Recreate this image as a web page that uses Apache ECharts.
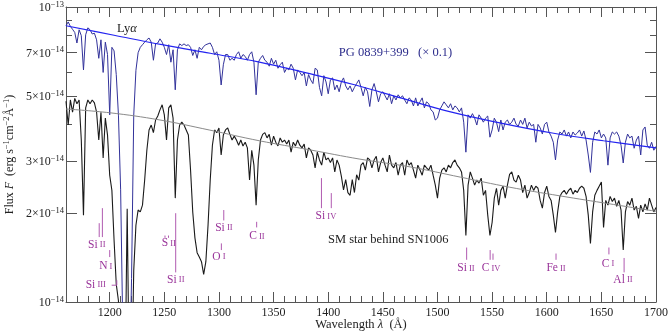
<!DOCTYPE html>
<html><head><meta charset="utf-8">
<script src="https://cdn.jsdelivr.net/npm/echarts@6/dist/echarts.min.js"></script>
<style>html,body{margin:0;padding:0;background:#fff}#c{width:670px;height:332px}</style>
</head><body><div id="c"></div><script>
// Wavelength grid (Å) of both spectra
const waveStart = 1160, waveStep = 2;
// Flux in units of 1e-14 erg s^-1 cm^-2 Å^-1
const fluxSM = [
4.79,3.98,4.84,4.4,4.9,4.7,4.84,3.54,1.97,4.55,
4.84,4.7,4.84,4.73,4.4,3.54,4.4,3.08,4.2,3.68,
2.69,2.39,1.62,1.15,1.01,0.6,0.5,0.5,2.07,0.5,
0.5,1.28,1.82,2.05,2.02,2.13,2.59,3.27,3.83,3.98,
3.75,4.14,4.27,4.48,4.66,4.31,3.54,4.55,4.66,4.2,
2.25,3.54,3.98,4.07,3.98,3.83,3.68,2.8,2.02,1.65,
1.47,1.42,1.37,1.24,1.37,1.82,2.59,3.4,3.83,3.75,
3.89,3.15,3.68,3.83,3.89,3.7,3.54,3.65,3.54,3.4,
3.54,3.38,3.48,3.33,2.59,3.27,2.91,2.13,3.03,3.54,
3.7,3.75,3.6,3.7,3.4,3.65,3.48,3.38,3.6,3.48,
3.54,3.43,3.54,3.22,3.48,3.38,3.54,3.4,3.33,3.43,
3.08,3.33,3.27,3.15,2.85,3.22,3.03,2.91,3.22,3.03,
3.08,2.97,3.08,2.76,3.03,2.91,2.67,2.4,2.6,2.35,
2.3,2.6,2.35,2.7,2.59,2.91,2.97,2.8,3.08,3.03,
2.85,3.03,3.12,2.76,2.97,3.08,2.91,2.76,3.15,2.91,
2.85,2.97,2.69,2.91,2.97,2.69,3.03,2.91,2.97,2.8,
2.63,2.91,2.8,2.69,2.91,2.85,2.8,2.91,2.69,2.49,
2.25,2.63,2.8,2.85,2.76,2.91,2.85,2.97,3.03,2.91,
2.85,2.76,2.39,1.68,2.49,2.76,2.63,2.49,2.59,2.53,
2.63,2.3,2.39,1.97,1.68,1.86,2.25,2.43,2.13,2.39,
2.47,2.25,2.49,2.71,2.76,2.59,2.55,2.69,2.59,2.35,
2.49,2.25,2.35,2.49,2.39,2.47,2.43,2.21,2.08,2.35,
2.47,2.28,2.21,1.97,1.72,2.02,2.28,2.35,2.39,2.32,
2.39,2.43,2.32,2.39,2.35,2.43,2.47,2.43,2.28,1.97,
1.58,2.02,2.3,2.39,2.47,2.55,1.79,2.21,2.13,2.28,
2.19,2.25,2.11,2.21,2.05,1.5,2.02,2.19,2.13,2.25,
2.05,2.11,1.92,2.13,2.02,2.15,2.05,2.25,2.13,2.02,
2.09];
const fluxPG = [
8.64,8.9,8.6,8.4,8.2,7.55,8.37,8.0,6.12,8.05,
8.5,8.37,8.1,8.15,7.74,6.7,7.74,6.0,7.6,6.9,
4.31,7.3,7.1,5.9,4.3,2.4,0.8,0.5,0.5,0.5,
1.2,4.3,6.1,7.0,7.3,7.45,7.6,7.74,7.85,7.6,
6.6,7.5,7.55,7.8,7.6,7.3,6.9,7.45,6.5,7.16,
5.24,7.16,7.5,7.4,7.5,7.4,7.45,7.3,6.85,7.16,
6.7,7.3,7.16,7.35,7.45,7.5,7.55,7.3,6.9,7.05,
6.6,5.44,6.37,6.9,6.9,6.6,6.7,6.6,6.9,7.05,
6.7,6.9,6.8,6.6,6.9,7.05,6.5,5.04,6.5,6.7,
6.85,6.6,6.5,6.3,6.7,6.4,6.6,6.2,6.37,6.5,
6.0,6.2,6.12,6.4,6.2,5.66,6.12,6.0,5.85,6.0,
5.4,5.9,5.66,5.5,6.2,6.12,5.34,5.0,5.85,5.57,
5.08,5.66,5.75,5.24,5.44,5.16,5.57,5.75,5.4,5.24,
5.4,5.16,5.34,5.5,5.66,5.34,5.0,5.34,5.16,4.6,
5.24,5.5,5.16,4.77,5.08,5.16,5.0,4.84,5.08,4.7,
5.0,4.84,5.04,4.92,5.0,4.84,4.7,4.92,4.84,4.62,
4.92,4.62,4.77,4.92,4.55,4.77,4.7,4.48,4.41,4.14,
4.2,4.48,4.62,4.77,4.66,4.55,4.7,4.48,4.62,4.55,
4.41,4.55,4.07,3.22,4.31,4.2,4.35,4.2,3.98,4.31,
4.2,4.07,4.2,4.27,3.62,3.83,4.2,4.07,3.78,4.14,
3.83,4.07,4.14,4.0,4.07,4.2,4.0,3.95,4.14,4.0,
4.2,3.89,4.07,3.95,4.0,3.48,4.0,3.89,3.71,4.0,
4.07,3.77,3.65,3.48,3.03,3.54,3.77,3.71,3.83,3.65,
3.77,3.6,3.77,3.68,3.74,3.83,3.65,3.8,3.54,3.15,
2.75,3.48,3.77,3.71,3.83,3.6,3.71,3.6,2.91,3.6,
3.77,3.71,3.77,3.65,3.4,2.96,3.48,3.71,3.6,3.65,
3.32,3.54,3.65,3.15,3.83,3.92,3.4,3.32,3.48,3.27,
3.37];
// Smooth continuum fits
const contSMWave = [1160,1200,1246,1291,1337,1383,1429,1475,1521,1566,1612,1658,1700];
const contSMFlux = [4.51,4.38,4.14,3.83,3.52,3.28,3.05,2.87,2.65,2.45,2.29,2.15,2.03];
const contPGWave = [1160,1204,1248,1292,1336,1380,1424,1468,1512,1558,1605,1652,1700];
const contPGFlux = [8.64,8.02,7.45,6.97,6.52,5.98,5.45,4.9,4.41,4.04,3.74,3.52,3.33];
// Axis ticks
const xMajor = [1200,1250,1300,1350,1400,1450,1500,1550,1600,1650,1700];
const xMinor = [1170,1180,1190,1210,1220,1230,1240,1260,1270,1280,1290,1310,1320,1330,1340,1360,1370,1380,1390,1410,1420,1430,1440,1460,1470,1480,1490,1510,1520,1530,1540,1560,1570,1580,1590,1610,1620,1630,1640,1660,1670,1680,1690];
const yMajorFlux = [1,2,3,5,7,10];
const yMinorFlux = [4,6,8,9];
// Line identification marks: [wave1, flux1, wave2, flux2]
const markSegs = [
 [1190.4,1.85,1190.4,1.66],[1193.3,2.08,1193.3,1.66],[1200.0,1.50,1200.0,1.42],
 [1206.5,1.185,1206.5,1.14],[1201.8,1.14,1206.5,1.14],
 [1250.6,1.68,1250.6,1.65],[1253.8,1.68,1253.8,1.65],
 [1260.4,2.0,1260.4,1.26],[1302.2,1.58,1302.2,1.50],[1304.4,2.05,1304.4,1.89],
 [1334.5,1.87,1334.5,1.79],[1393.8,2.63,1393.8,2.08],[1402.8,2.34,1402.8,2.08],
 [1526.7,1.53,1526.7,1.39],[1548.2,1.50,1548.2,1.39],[1550.8,1.46,1550.8,1.39],
 [1608.5,1.46,1608.5,1.39],[1656.9,1.53,1656.9,1.45],[1670.8,1.41,1670.8,1.26]];
const ionEl = ['Si','N','Si','S','Si','O','Si','C','Si','Si','C','Fe','C','Al'];
const ionStage = ['II','I','III','II','II','I','II','II','IV','II','IV','II','I','II'];
const ionWave = [1188.2,1196.4,1187.3,1254.1,1260.5,1299.9,1304.5,1334.7,1397.9,1526.1,1549.0,1608.5,1656.1,1669.8];
const ionFlux = [1.56,1.32,1.14,1.58,1.185,1.42,1.78,1.67,1.95,1.30,1.30,1.30,1.35,1.185];
const noteWave = [1215.7,1409.7,1399.8];
const noteFlux = [8.44,7.0,1.62];

const SERIF = "'Liberation Serif','DejaVu Serif',serif";
const AX = '#555';
const toLog = v => Math.log10(v);
const wl = i => waveStart + i * waveStep;

function supRich(size, color){
  return {
    b:{fontFamily:SERIF,fontSize:size,color:color,lineHeight:14,verticalAlign:'bottom'},
    i:{fontFamily:SERIF,fontSize:size,color:color,lineHeight:14,verticalAlign:'bottom',fontStyle:'italic'},
    s:{fontFamily:SERIF,fontSize:8.5,color:color,lineHeight:10,verticalAlign:'top'}
  };
}
function yLabel(v){
  const n = Math.round(Math.pow(10, v));
  if (n === 10) return '{b|10}{s|\u221213}';
  if (n === 1) return '{b|10}{s|\u221214}';
  return '{b|' + n + '\u00d710}{s|\u221214}';
}
function xAx(pos, ticks, len, line, labels){
  return {type:'value',min:1160,max:1700,position:pos,
    axisLine:{show:line,onZero:false,lineStyle:{color:AX,width:1}},
    axisTick:{show:true,inside:true,length:len,customValues:ticks,lineStyle:{color:AX,width:1}},
    axisLabel:labels?{customValues:ticks,formatter:v=>String(v),color:'#222',fontFamily:SERIF,fontSize:12,margin:5}:{show:false},
    splitLine:{show:false}};
}
function yAx(pos, ticks, len, line, labels){
  return {type:'value',min:0,max:1,position:pos,
    axisLine:{show:line,onZero:false,lineStyle:{color:AX,width:1}},
    axisTick:{show:true,inside:true,length:len,customValues:ticks.map(toLog),lineStyle:{color:AX,width:1}},
    axisLabel:labels?{customValues:ticks.map(toLog),formatter:yLabel,margin:2,rich:supRich(12,'#222')}:{show:false},
    splitLine:{show:false}};
}

const xA0 = xAx('bottom', xMajor, 10, true, true);
xA0.name = '{b|Wavelength }{i|\u03bb}{b|  (\u00c5)}';
xA0.nameLocation = 'middle';
xA0.nameGap = 16;
xA0.nameMoveOverlap = false;
xA0.nameTextStyle = {rich:{
  b:{fontFamily:SERIF,fontSize:12.5,color:'#222'},
  i:{fontFamily:SERIF,fontSize:12.5,color:'#222',fontStyle:'italic'}}};

const yLog = {type:'log',logBase:10,min:1,max:10,position:'left',
  axisLine:{show:true,onZero:false,lineStyle:{color:AX,width:1}},
  axisTick:{show:false},axisLabel:{show:false},splitLine:{show:false},minorTick:{show:false},
  name:'{b|Flux }{i|F}{b|  (erg s}{s|\u22121}{b|cm}{s|\u22122}{b|\u00c5}{s|\u22121}{b|)}',
  nameLocation:'middle',nameRotate:90,nameGap:50,nameMoveOverlap:false,
  nameTextStyle:{rich:supRich(12,'#222')}};

const noteStyles = [
  {text:'{b|Ly}{i|\u03b1}', align:'center', color:'#222'},
  {text:'{b|PG 0839+399   (\u00d7 0.1)}', align:'left', color:'#2d2d8c'},
  {text:'{b|SM star behind SN1006}', align:'left', color:'#222'}
];
const ionRich = {
  e:{fontFamily:SERIF,fontSize:11.5,color:'#993399'},
  g:{fontFamily:SERIF,fontSize:8.5,color:'#993399'}
};

const option = {
  animation:false,
  backgroundColor:'#fff',
  grid:{left:66,right:14,top:7,bottom:30,containLabel:false,outerBoundsMode:'none'},
  xAxis:[xA0, xAx('bottom',xMinor,6,false,false), xAx('top',xMajor,10,true,false), xAx('top',xMinor,6,false,false)],
  yAxis:[yLog, yAx('left',yMajorFlux,11,false,true), yAx('left',yMinorFlux,6,false,false),
         yAx('right',yMajorFlux,11,true,false), yAx('right',yMinorFlux,6,false,false)],
  series:[
    {type:'line',name:'SM',xAxisIndex:0,yAxisIndex:0,showSymbol:false,symbol:'none',clip:true,
     data:fluxSM.map((f,i)=>[wl(i),f]),lineStyle:{color:'#1a1a1a',width:1.1},z:2},
    {type:'line',name:'PG',xAxisIndex:0,yAxisIndex:0,showSymbol:false,symbol:'none',clip:true,
     data:fluxPG.map((f,i)=>[wl(i),f]),lineStyle:{color:'#32329a',width:1},z:2},
    {type:'line',name:'contSM',xAxisIndex:0,yAxisIndex:0,showSymbol:false,symbol:'none',smooth:0.4,
     data:contSMWave.map((w,i)=>[w,contSMFlux[i]]),lineStyle:{color:'#8a8a8a',width:1},z:3},
    {type:'line',name:'contPG',xAxisIndex:0,yAxisIndex:0,showSymbol:false,symbol:'none',smooth:0.4,
     data:contPGWave.map((w,i)=>[w,contPGFlux[i]]),lineStyle:{color:'#2424f0',width:1.2},z:3},
    {type:'custom',name:'marks',xAxisIndex:0,yAxisIndex:0,z:4,
     data:markSegs.map(s=>[s[0],s[1],s[2],s[3]]),
     encode:{x:[0,2],y:[1,3]},
     renderItem:(params,api)=>{
       const s = markSegs[params.dataIndex];
       const p1 = api.coord([s[0],s[1]]), p2 = api.coord([s[2],s[3]]);
       return {type:'line',shape:{x1:p1[0],y1:p1[1],x2:p2[0],y2:p2[1]},
               style:{stroke:'#b05ab0',lineWidth:1}};
     }},
    {type:'custom',name:'ions',xAxisIndex:0,yAxisIndex:0,z:5,
     data:ionWave.map((w,i)=>[w,ionFlux[i]]),encode:{x:0,y:1},
     renderItem:(params,api)=>{
       const i = params.dataIndex;
       const p = api.coord([ionWave[i],ionFlux[i]]);
       return {type:'text',x:p[0],y:p[1],
         style:{text:'{e|'+ionEl[i]+'}{g| '+ionStage[i]+'}',rich:ionRich,align:'center',verticalAlign:'middle',fill:'#993399'}};
     }},
    {type:'custom',name:'notes',xAxisIndex:0,yAxisIndex:0,z:5,
     data:noteWave.map((w,i)=>[w,noteFlux[i]]),encode:{x:0,y:1},
     renderItem:(params,api)=>{
       const i = params.dataIndex, st = noteStyles[i];
       const p = api.coord([noteWave[i],noteFlux[i]]);
       return {type:'text',x:p[0],y:p[1],
         style:{text:st.text,rich:{
           b:{fontFamily:SERIF,fontSize:12.5,color:st.color},
           i:{fontFamily:SERIF,fontSize:12.5,color:st.color,fontStyle:'italic'}},
           align:st.align,verticalAlign:'middle',fill:st.color}};
     }}
  ]
};
const chart = echarts.init(document.getElementById('c'),null,{renderer:'canvas'});
chart.setOption(option);
</script></body></html>
